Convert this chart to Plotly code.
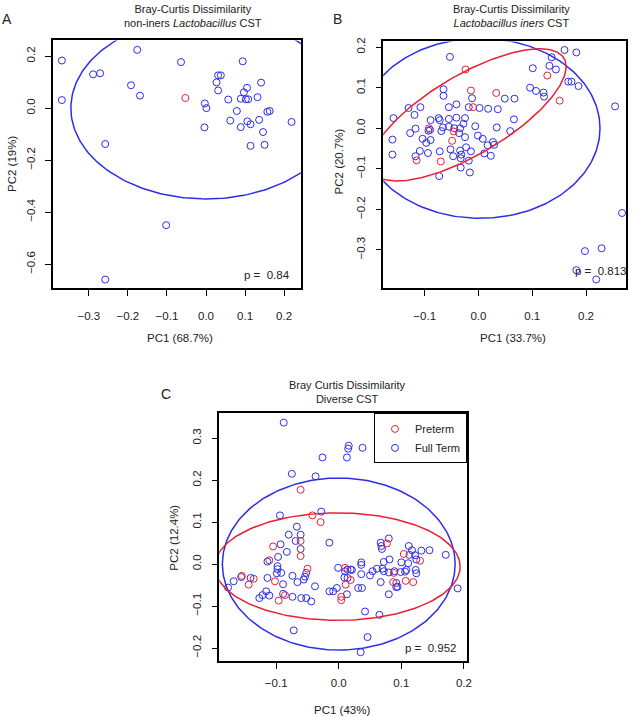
import numpy as np
import plotly.graph_objects as go

W, H = 638, 717
BLUE = 'rgb(45,45,232)'
RED = 'rgb(232,32,50)'
FONT = 'Liberation Sans, Arial, sans-serif'

# ---- Panel A: non-iners Lactobacillus CST ----
a_full_x = [-0.369, -0.369, -0.289, -0.271, -0.176, -0.192, -0.169, -0.258, -0.064, -0.102,
            -0.258, -0.003, 0.001, -0.004, 0.031, 0.038, 0.027, 0.031, 0.057, 0.062,
            0.094, 0.105, 0.097, 0.089, 0.102, 0.108, 0.079, 0.106, 0.114, 0.089,
            0.114, 0.141, 0.132, 0.136, 0.146, 0.150, 0.157, 0.163, 0.219]
a_full_y = [0.183, 0.031, 0.130, 0.134, 0.224, 0.088, 0.048, -0.138, 0.177, -0.450,
            -0.659, 0.018, 0.000, -0.074, 0.126, 0.126, 0.099, 0.068, 0.033, -0.048,
            0.180, 0.078, 0.061, 0.036, 0.034, 0.034, -0.011, -0.051, -0.062, -0.073,
            -0.145, 0.098, 0.042, -0.045, -0.092, -0.141, -0.014, -0.011, -0.053]
a_pre_x = [-0.053]
a_pre_y = [0.039]

# ---- Panel B: Lactobacillus iners CST ----
b_full_x = [-0.053, -0.065, -0.065, -0.012, 0.049, 0.067, -0.130, -0.108, -0.055, -0.041,
            -0.018, 0.002, 0.018, 0.036, -0.158, -0.119, -0.089, -0.074, -0.072, -0.055,
            -0.041, -0.025, -0.117, -0.127, -0.090, -0.066, -0.055, -0.045, -0.034, -0.028,
            -0.006, 0.034, 0.066, 0.059, -0.069, -0.036, -0.160, -0.104, -0.097, -0.089,
            -0.025, -0.001, 0.008, 0.017, 0.027, 0.029, -0.160, -0.117, -0.109, -0.094,
            -0.072, -0.052, -0.047, -0.034, -0.032, -0.033, -0.023, -0.014, -0.018, -0.033,
            -0.016, -0.073, 0.011, 0.023, 0.096, 0.107, 0.121, 0.122, 0.101, 0.132,
            0.136, 0.144, 0.160, 0.182, 0.167, 0.173, 0.186, 0.254, 0.267, 0.198,
            0.229, 0.182, 0.219, -0.093]
b_full_y = [0.176, 0.096, 0.080, 0.074, 0.073, 0.073, 0.050, 0.052, 0.052, 0.059,
            0.052, 0.050, 0.048, 0.047, 0.025, 0.033, 0.020, 0.025, 0.020, 0.023,
            0.026, 0.025, -0.001, -0.012, -0.004, 0.002, 0.004, 0.000, 0.000, 0.011,
            0.005, 0.002, 0.022, -0.007, -0.007, -0.012, -0.028, -0.026, -0.036, -0.029,
            -0.022, -0.018, -0.026, -0.042, -0.034, -0.041, -0.065, -0.069, -0.056, -0.061,
            -0.057, -0.052, -0.069, -0.055, -0.065, -0.074, -0.047, -0.057, -0.080, -0.097,
            -0.109, -0.118, -0.062, -0.068, 0.100, 0.092, 0.088, 0.078, 0.148, 0.154,
            0.175, 0.145, 0.193, 0.187, 0.115, 0.115, 0.104, 0.054, -0.209, -0.303,
            -0.296, -0.350, -0.373, -0.006]
b_pre_x = [-0.024, -0.014, 0.033, -0.010, -0.092, -0.046, -0.049, -0.115, -0.070, 0.128, 0.151]
b_pre_y = [0.145, 0.093, 0.087, 0.052, 0.000, -0.008, -0.031, -0.079, -0.082, 0.130, 0.068]

# ---- Panel C: Diverse CST ----
c_full_x = [-0.088, 0.016, 0.015, 0.038, -0.026, 0.013, -0.075, -0.037, -0.094, -0.028,
            -0.015, -0.067, -0.080, -0.061, -0.093, -0.069, -0.061, -0.083, -0.097, -0.114,
            -0.098, -0.098, -0.099, -0.092, -0.074, -0.052, -0.054, -0.056, -0.066, -0.038,
            -0.156, -0.168, -0.141, -0.114, -0.089, -0.177, -0.116, -0.111, -0.122, -0.127,
            -0.089, -0.074, -0.060, -0.052, -0.044, -0.072, -0.015, -0.009, -0.003, 0.013,
            -0.001, 0.014, 0.019, 0.021, 0.010, 0.009, 0.014, 0.036, 0.036, 0.036,
            0.031, 0.037, 0.042, 0.065, 0.046, 0.035, 0.050, 0.054, 0.061, 0.070,
            0.067, 0.072, 0.067, 0.068, 0.069, 0.080, 0.072, 0.081, 0.080, 0.089,
            0.092, 0.094, 0.092, 0.080, 0.100, 0.099, 0.106, 0.108, 0.111, 0.112,
            0.113, 0.117, 0.122, 0.124, 0.123, 0.124, 0.132, 0.145, 0.171, 0.190]
c_full_y = [0.337, 0.282, 0.275, 0.277, 0.254, 0.254, 0.215, 0.209, 0.116, 0.125,
            0.051, 0.089, 0.070, 0.070, 0.047, 0.055, 0.036, 0.029, 0.017, 0.006,
            -0.005, -0.012, -0.022, -0.021, -0.028, -0.021, -0.030, -0.037, -0.043, -0.053,
            -0.031, -0.041, -0.033, -0.033, -0.048, -0.056, -0.065, -0.075, -0.074, -0.081,
            -0.071, -0.078, -0.081, -0.081, -0.089, -0.158, -0.065, -0.065, -0.057, -0.072,
            -0.009, -0.013, -0.013, -0.014, -0.017, -0.032, -0.033, 0.004, -0.002, -0.024,
            -0.057, -0.057, -0.113, -0.121, -0.174, -0.210, -0.027, -0.017, -0.011, -0.011,
            -0.043, -0.017, 0.051, 0.043, 0.036, 0.061, 0.005, 0.011, -0.020, -0.017,
            -0.045, -0.054, -0.055, -0.072, 0.004, -0.019, -0.018, -0.014, 0.002, 0.043,
            0.022, 0.033, 0.021, 0.011, -0.014, -0.022, 0.032, 0.033, 0.022, -0.058]
c_pre_x = [-0.061, -0.042, -0.029, -0.061, -0.105, -0.061, -0.111, -0.050, -0.155, -0.136,
           -0.144, -0.102, -0.096, -0.086, 0.004, 0.004, 0.010, 0.019, 0.011, 0.077,
           0.088, 0.087, 0.107, 0.104, 0.130, 0.119]
c_pre_y = [0.177, 0.116, 0.100, 0.055, 0.042, 0.019, 0.009, -0.011, -0.028, -0.035,
           -0.049, -0.041, -0.087, -0.074, -0.078, -0.086, -0.009, -0.038, -0.049, 0.049,
           -0.021, -0.043, -0.040, 0.024, 0.008, -0.043]

# ellipse parameters: centre x, centre y, half-width x, half-height y, correlation
a_full_ell = [0.000, 0.000, 0.346, 0.349, 0.0]
b_full_ell = [0.003, 0.000, 0.223, 0.222, 0.0]
b_pre_ell = [-0.019, 0.033, 0.182, 0.163, 0.73]
c_full_ell = [0.000, 0.000, 0.186, 0.205, 0.0]
c_pre_ell = [-0.002, -0.006, 0.196, 0.128, 0.0]


def ellipse(cx, cy, sx, sy, rho, n=240):
    t = np.linspace(0, 2 * np.pi, n)
    x = cx + sx * np.cos(t)
    y = cy + sy * (rho * np.cos(t) + np.sqrt(1 - rho ** 2) * np.sin(t))
    return x, y


def px(x):
    return x / W


def py(y):
    return 1 - y / H


fig = go.Figure()

panels = [
    ('x', 'y', a_full_x, a_full_y, a_pre_x, a_pre_y, [a_full_ell], []),
    ('x2', 'y2', b_full_x, b_full_y, b_pre_x, b_pre_y, [b_full_ell], [b_pre_ell]),
    ('x3', 'y3', c_full_x, c_full_y, c_pre_x, c_pre_y, [c_full_ell], [c_pre_ell]),
]

for xa, ya, fx, fy, rx, ry, full_ells, pre_ells in panels:
    fig.add_trace(go.Scatter(x=fx, y=fy, mode='markers', xaxis=xa, yaxis=ya,
                             name='Full Term', showlegend=False,
                             marker=dict(symbol='circle-open', size=7, color=BLUE,
                                         line=dict(width=1, color=BLUE))))
    fig.add_trace(go.Scatter(x=rx, y=ry, mode='markers', xaxis=xa, yaxis=ya,
                             name='Preterm', showlegend=False,
                             marker=dict(symbol='circle-open', size=7, color=RED,
                                         line=dict(width=1, color=RED))))
    for p in full_ells:
        ex, ey = ellipse(*p)
        fig.add_trace(go.Scatter(x=ex, y=ey, mode='lines', xaxis=xa, yaxis=ya,
                                 showlegend=False, hoverinfo='skip',
                                 line=dict(color=BLUE, width=1.5)))
    for p in pre_ells:
        ex, ey = ellipse(*p)
        fig.add_trace(go.Scatter(x=ex, y=ey, mode='lines', xaxis=xa, yaxis=ya,
                                 showlegend=False, hoverinfo='skip',
                                 line=dict(color=RED, width=1.5)))

# legend entries for panel C
fig.add_trace(go.Scatter(x=[None], y=[None], mode='markers', xaxis='x3', yaxis='y3',
                         name='Preterm',
                         marker=dict(symbol='circle-open', size=7, color=RED,
                                     line=dict(width=1, color=RED))))
fig.add_trace(go.Scatter(x=[None], y=[None], mode='markers', xaxis='x3', yaxis='y3',
                         name='Full Term',
                         marker=dict(symbol='circle-open', size=7, color=BLUE,
                                     line=dict(width=1, color=BLUE))))

axis_style = dict(showline=True, mirror=True, linecolor='black', linewidth=1.5,
                  ticks='outside', ticklen=6, tickwidth=1, tickcolor='black',
                  showgrid=False, zeroline=False, tickformat='.1f',
                  tickfont=dict(family=FONT, size=11.5, color='#222'))

fig.update_layout(
    width=W, height=H,
    margin=dict(l=0, r=0, t=0, b=0),
    paper_bgcolor='white', plot_bgcolor='white',
    font=dict(family=FONT, size=11, color='#222'),
    showlegend=True,
    legend=dict(x=px(470.7), y=py(411.7), xanchor='right', yanchor='top',
                bordercolor='black', borderwidth=1, bgcolor='white',
                font=dict(family=FONT, size=11, color='#222'),
                itemwidth=30, tracegroupgap=0),
    xaxis=dict(axis_style, domain=[px(53.3), px(303.3)], range=[-0.392, 0.243],
               tickvals=[-0.3, -0.2, -0.1, 0.0, 0.1, 0.2], ticklabelstandoff=10, anchor='y'),
    yaxis=dict(axis_style, domain=[py(286), py(36.7)], range=[-0.693, 0.26],
               tickvals=[-0.6, -0.4, -0.2, 0.0, 0.2], tickangle=-90,
               ticklabelstandoff=6, anchor='x'),
    xaxis2=dict(axis_style, domain=[px(386.3), px(631.3)], range=[-0.177, 0.275],
                tickvals=[-0.1, 0.0, 0.1, 0.2], ticklabelstandoff=10, anchor='y2'),
    yaxis2=dict(axis_style, domain=[py(286), py(37.7)], range=[-0.395, 0.214],
                tickvals=[-0.3, -0.2, -0.1, 0.0, 0.1, 0.2], tickangle=-90,
                ticklabelstandoff=6, anchor='x2'),
    xaxis3=dict(axis_style, domain=[px(221), px(470.7)], range=[-0.191, 0.205],
                tickvals=[-0.1, 0.0, 0.1, 0.2], ticklabelstandoff=4, anchor='y3'),
    yaxis3=dict(axis_style, domain=[py(660.7), py(411.7)], range=[-0.231, 0.359],
                tickvals=[-0.2, -0.1, 0.0, 0.1, 0.2, 0.3], tickangle=-90,
                ticklabelstandoff=6, anchor='x3'),
)

notes = [
    ('A', 7, 15, 14, 0),
    ('B', 340, 15, 14, 0),
    ('C', 167, 392, 14, 0),
    ('Bray-Curtis Dissimilarity<br>non-iners <i>Lactobacillus</i> CST', 195, 12, 11, 0),
    ('Bray-Curtis Dissimilarity<br><i>Lactobacillus iners</i> CST', 516, 12, 11, 0),
    ('Bray Curtis Dissimilarity<br>Diverse CST', 350, 390, 11, 0),
    ('PC1 (68.7%)', 181, 336, 11.5, 0),
    ('PC1 (33.7%)', 517, 336, 11.5, 0),
    ('PC1 (43%)', 345, 710, 11.5, 0),
    ('PC2 (19%)', 12, 161, 11.5, -90),
    ('PC2 (20.7%)', 342, 158, 11.5, -90),
    ('PC2 (12.4%)', 175, 537, 11.5, -90),
]
for text, x, y, size, angle in notes:
    fig.add_annotation(text=text, x=px(x), y=py(y), xref='paper', yref='paper',
                       showarrow=False, xanchor='center', yanchor='middle',
                       textangle=angle, font=dict(family=FONT, size=size, color='#222'))

pvals = [('p = \u00a00.84', 294, 273), ('p = \u00a00.813', 633, 268), ('p = \u00a00.952', 462, 648)]
for text, x, y in pvals:
    fig.add_annotation(text=text, x=px(x), y=py(y), xref='paper', yref='paper',
                       showarrow=False, xanchor='right', yanchor='middle',
                       font=dict(family=FONT, size=11.5, color='#222'))

# the page body has a default 8px margin; drop it so the figure fills the window
fig.write_html("out.html", config={'displayModeBar': False},
               post_script="document.body.style.margin='0';")
